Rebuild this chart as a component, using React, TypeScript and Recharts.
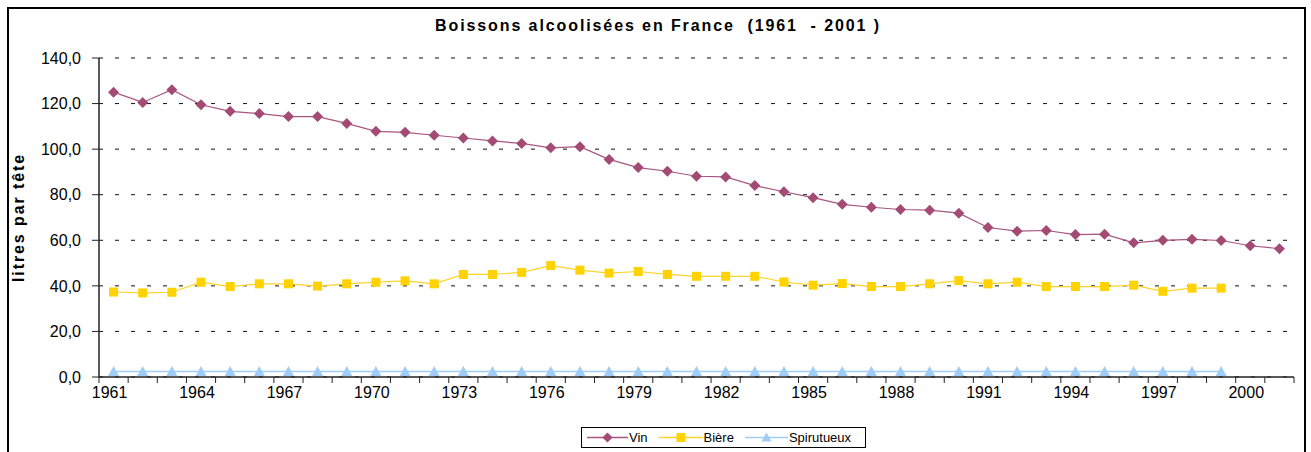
import React from 'react';
import { LineChart, Line, XAxis, YAxis, CartesianGrid, Legend } from 'recharts';

const years = [
  '1961', '1962', '1963', '1964', '1965', '1966', '1967', '1968', '1969', '1970',
  '1971', '1972', '1973', '1974', '1975', '1976', '1977', '1978', '1979', '1980',
  '1981', '1982', '1983', '1984', '1985', '1986', '1987', '1988', '1989', '1990',
  '1991', '1992', '1993', '1994', '1995', '1996', '1997', '1998', '1999', '2000', '2001',
];

const vin = [
  125.0, 120.5, 126.1, 119.5, 116.6, 115.6, 114.3, 114.3, 111.3, 107.8,
  107.4, 106.1, 104.9, 103.6, 102.5, 100.6, 101.1, 95.5, 91.9, 90.3,
  88.1, 87.8, 84.0, 81.3, 78.7, 75.8, 74.5, 73.5, 73.2, 71.9,
  65.6, 64.0, 64.3, 62.5, 62.7, 58.9, 60.0, 60.4, 59.9, 57.6, 56.3,
];

const biere = [
  37.3, 36.9, 37.2, 41.6, 39.7, 40.9, 40.9, 39.9, 40.9, 41.6,
  42.2, 40.9, 45.0, 45.0, 45.9, 48.9, 46.9, 45.6, 46.3, 45.0,
  44.2, 44.2, 44.2, 41.7, 40.3, 41.0, 39.7, 39.7, 40.9, 42.3,
  40.9, 41.6, 39.7, 39.7, 39.7, 40.3, 37.6, 39.0, 39.0, null, null,
];

const spiritueux = [
  2.4, 2.4, 2.4, 2.4, 2.4, 2.4, 2.4, 2.4, 2.4, 2.4,
  2.4, 2.4, 2.4, 2.4, 2.4, 2.4, 2.4, 2.4, 2.4, 2.4,
  2.4, 2.4, 2.4, 2.4, 2.4, 2.4, 2.4, 2.4, 2.4, 2.4,
  2.4, 2.4, 2.4, 2.4, 2.4, 2.4, 2.4, 2.4, 2.4, null, null,
];

const yTicks = [0, 20, 40, 60, 80, 100, 120, 140];
const seriesNames = ['Vin', 'Bière', 'Spirutueux'];
const titleText = 'Boissons alcoolisées en France  (1961  - 2001 )';
const yLabel = 'litres par tête';

const data = years.map((y, i) => ({
  year: y,
  vin: vin[i],
  biere: biere[i],
  spiritueux: spiritueux[i],
}));

const FONT = '"Liberation Sans", Arial, sans-serif';
const VIN_COLOR = '#A34A75';
const VIN_LINE = '#A8557F';
const BIERE_COLOR = '#FFD200';
const BIERE_LINE = '#FFD42A';
const SPIR_COLOR = '#9FCDF7';

const fmt = (v: number) => v.toFixed(1).replace('.', ',');

function Diamond(cx: number, cy: number, fill: string, key?: string, r = 5.5) {
  return (
    <polygon
      key={key}
      points={`${cx},${cy - r} ${cx + r},${cy} ${cx},${cy + r} ${cx - r},${cy}`}
      fill={fill}
      stroke="none"
    />
  );
}
function Square(cx: number, cy: number, fill: string, key?: string, r = 4.5) {
  return <rect key={key} x={cx - r} y={cy - r} width={2 * r} height={2 * r} fill={fill} stroke="none" />;
}
function Triangle(cx: number, cy: number, fill: string, key?: string, r = 5.5) {
  return (
    <polygon
      key={key}
      points={`${cx},${cy - r} ${cx + r},${cy + r * 0.8} ${cx - r},${cy + r * 0.8}`}
      fill={fill}
      stroke="none"
    />
  );
}

const makeDot = (kind: 'd' | 's' | 't', fill: string) => (props: any) => {
  const { cx, cy, index, value } = props;
  const k = `${kind}-${index}`;
  if (cx == null || cy == null || value == null || (Array.isArray(value) && value[1] == null)) {
    return <g key={k} />;
  }
  if (kind === 'd') return Diamond(cx, cy, fill, k);
  if (kind === 's') return Square(cx, cy, fill, k);
  return Triangle(cx, cy, fill, k);
};

function XTick(props: any) {
  const { x, y, payload, index, width, visibleTicksCount } = props;
  const half =
    payload && typeof payload.offset === 'number' && payload.offset > 0
      ? payload.offset
      : width && visibleTicksCount
      ? width / visibleTicksCount / 2
      : 0;
  const yr = Number(payload.value);
  const show = (yr - 1961) % 3 === 0;
  const isLast = index === (visibleTicksCount ?? 0) - 1;
  return (
    <g>
      <line x1={x - half} x2={x - half} y1={y} y2={y + 6} stroke="#222" strokeWidth={1} />
      {isLast && <line x1={x + half} x2={x + half} y1={y} y2={y + 6} stroke="#222" strokeWidth={1} />}
      {show && (
        <text x={x - 4} y={y + 21} textAnchor="middle" fontSize={16} fill="#000" fontFamily={FONT}>
          {payload.value}
        </text>
      )}
    </g>
  );
}

function LegendBox() {
  const items = [
    { name: seriesNames[0], color: VIN_LINE, marker: (cx: number, cy: number) => Diamond(cx, cy, VIN_COLOR, undefined, 5), w: 41 },
    { name: seriesNames[1], color: BIERE_LINE, marker: (cx: number, cy: number) => Square(cx, cy, BIERE_COLOR, undefined, 4.5), w: 44 },
    { name: seriesNames[2], color: SPIR_COLOR, marker: (cx: number, cy: number) => Triangle(cx, cy, SPIR_COLOR, undefined, 5), w: 43 },
  ];
  return (
    <div
      style={{
        boxSizing: 'border-box',
        width: 285,
        height: 21,
        border: '1px solid #000',
        background: '#fff',
        display: 'flex',
        alignItems: 'center',
        paddingLeft: 5,
        fontFamily: FONT,
        fontSize: 13,
        color: '#000',
      }}
    >
      {items.map((it, i) => (
        <div key={it.name} style={{ display: 'flex', alignItems: 'center', marginLeft: i === 0 ? 0 : 11 }}>
          <svg width={it.w} height={19} style={{ display: 'block' }}>
            <line x1={0} x2={it.w} y1={9.5} y2={9.5} stroke={it.color} strokeWidth={1.5} />
            {it.marker(it.w / 2, 9.5)}
          </svg>
          <span style={{ marginLeft: 1, lineHeight: '19px' }}>{it.name}</span>
        </div>
      ))}
    </div>
  );
}

export default function App() {
  return (
    <div style={{ position: 'absolute', left: 0, top: 0, width: 1311, height: 452, background: '#fff', overflow: 'hidden' }}>
      <div
        style={{
          position: 'absolute',
          left: 7,
          top: 7,
          width: 1299,
          height: 470,
          border: '2px solid #000',
          boxSizing: 'border-box',
        }}
      />
      <div
        style={{
          position: 'absolute',
          left: 0,
          top: 17,
          width: 1316,
          textAlign: 'center',
          fontFamily: FONT,
          fontWeight: 'bold',
          fontSize: 16,
          letterSpacing: 1.9,
          lineHeight: '18px',
          whiteSpace: 'pre',
          color: '#000',
        }}
      >
        {titleText}
      </div>
      <div style={{ position: 'absolute', left: 0, top: 0 }}>
        <LineChart width={1311} height={452} data={data} margin={{ top: 58, right: 17, bottom: 45, left: 9 }}>
          <CartesianGrid vertical={false} stroke="#111" strokeDasharray="4 12" />
          <XAxis
            dataKey="year"
            scale="band"
            interval={0}
            tickSize={0}
            tickMargin={0}
            tickLine={false}
            axisLine={{ stroke: '#222', strokeWidth: 1.5 }}
            height={30}
            tick={<XTick />}
          />
          <XAxis
            xAxisId="top"
            dataKey="year"
            orientation="top"
            scale="band"
            height={0}
            tick={false}
            tickLine={false}
            axisLine={{ stroke: '#9a9a9a' }}
          />
          <YAxis
            domain={[0, 140]}
            ticks={yTicks}
            interval={0}
            tickFormatter={fmt}
            width={90}
            tickSize={7}
            tickMargin={11}
            axisLine={{ stroke: '#222', strokeWidth: 1.5 }}
            tickLine={{ stroke: '#222' }}
            tick={{ fontSize: 16, fill: '#000', fontFamily: FONT }}
            label={{
              value: yLabel,
              angle: -90,
              position: 'insideLeft',
              offset: 9,
              style: { textAnchor: 'middle', fontSize: 16, fontWeight: 'bold', fill: '#000', fontFamily: FONT, letterSpacing: 1.9 },
            }}
          />
          <YAxis
            yAxisId="right"
            orientation="right"
            width={0}
            tick={false}
            tickLine={false}
            axisLine={{ stroke: '#9a9a9a' }}
          />
          <Legend
            verticalAlign="middle"
            align="center"
            layout="horizontal"
            wrapperStyle={{ left: 581, top: 427, bottom: 'auto', width: 285, height: 21 }}
            content={() => <LegendBox />}
          />
          <Line
            type="linear"
            dataKey="vin"
            name={seriesNames[0]}
            stroke={VIN_LINE}
            strokeWidth={1.2}
            dot={makeDot('d', VIN_COLOR)}
            activeDot={false}
            isAnimationActive={false}
          />
          <Line
            type="linear"
            dataKey="biere"
            name={seriesNames[1]}
            stroke={BIERE_LINE}
            strokeWidth={1.2}
            dot={makeDot('s', BIERE_COLOR)}
            activeDot={false}
            isAnimationActive={false}
          />
          <Line
            type="linear"
            dataKey="spiritueux"
            name={seriesNames[2]}
            stroke={SPIR_COLOR}
            strokeWidth={1.5}
            dot={makeDot('t', SPIR_COLOR)}
            activeDot={false}
            isAnimationActive={false}
          />
        </LineChart>
      </div>
    </div>
  );
}
